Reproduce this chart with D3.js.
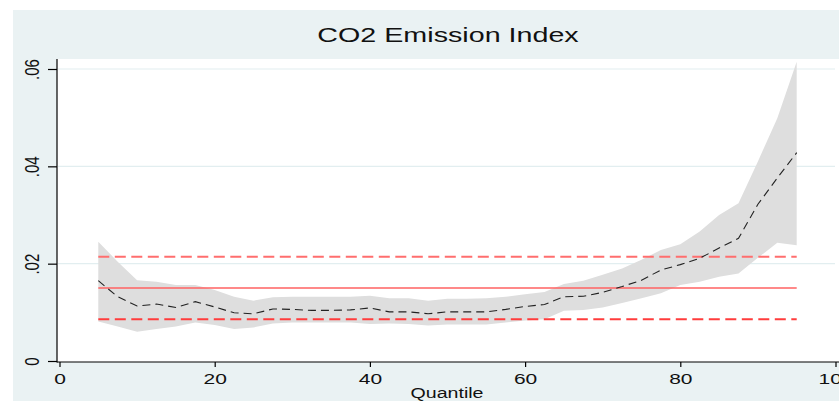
<!DOCTYPE html>
<html>
<head>
<meta charset="utf-8">
<script src="https://cdn.jsdelivr.net/npm/d3@7/dist/d3.min.js"></script>
<style>
html,body{margin:0;padding:0;background:#fff;}
svg{display:block;}
text{font-family:"Liberation Sans",Arial,Helvetica,sans-serif;fill:#111;}
</style>
</head>
<body>
<svg id="chart" width="839" height="401"></svg>
<script>
// ---- data ----
const title = "CO2 Emission Index";
const xLabel = "Quantile";
const quantiles = [5, 7.5, 10, 12.5, 15, 17.5, 20, 22.5, 25, 27.5, 30, 32.5, 35, 37.5, 40, 42.5, 45, 47.5, 50, 52.5, 55, 57.5, 60, 62.5, 65, 67.5, 70, 72.5, 75, 77.5, 80, 82.5, 85, 87.5, 90, 92.5, 95];
const coef = [0.0165, 0.0132, 0.0113, 0.0117, 0.0110, 0.0122, 0.0111, 0.0099, 0.0097, 0.0107, 0.0106, 0.0104, 0.0104, 0.0105, 0.0109, 0.0101, 0.0101, 0.0097, 0.0101, 0.0101, 0.0101, 0.0106, 0.0112, 0.0116, 0.0132, 0.0133, 0.0141, 0.0153, 0.0166, 0.0187, 0.0198, 0.0211, 0.0232, 0.0252, 0.0322, 0.0376, 0.0428];
const upper = [0.0245, 0.0204, 0.0166, 0.0163, 0.0156, 0.0156, 0.0146, 0.0132, 0.0124, 0.0131, 0.0132, 0.0132, 0.0132, 0.0132, 0.0134, 0.0129, 0.0129, 0.0124, 0.0128, 0.0128, 0.0129, 0.0132, 0.0137, 0.0142, 0.0158, 0.0165, 0.0177, 0.0190, 0.0208, 0.0228, 0.0240, 0.0266, 0.0300, 0.0324, 0.0410, 0.0499, 0.0615];
const lower = [0.0081, 0.0071, 0.0060, 0.0066, 0.0071, 0.0079, 0.0074, 0.0066, 0.0069, 0.0077, 0.0079, 0.0079, 0.0079, 0.0079, 0.0076, 0.0077, 0.0076, 0.0073, 0.0075, 0.0075, 0.0075, 0.0079, 0.0083, 0.0086, 0.0103, 0.0105, 0.0110, 0.0119, 0.0129, 0.0139, 0.0156, 0.0163, 0.0173, 0.0180, 0.0212, 0.0243, 0.0238];
const olsCoef = 0.0150;
const olsLower = 0.0086;
const olsUpper = 0.0214;
const xTicks = [0, 20, 40, 60, 80, 100];
const yTicks = [0, 0.02, 0.04, 0.06];
const yTickLabels = ["0", ".02", ".04", ".06"];

// ---- layout ----
const W = 839, H = 401;
const svg = d3.select("#chart");
const SX = 1.4; // horizontal stretch of text in reference

const x = d3.scaleLinear().domain([0, 100]).range([59.5, 835.5]);
const y = d3.scaleLinear().domain([0, 0.06]).range([361, 69]);

// outer backgrounds
svg.append("rect").attr("x", 0).attr("y", 0).attr("width", W).attr("height", H).attr("fill", "#ffffff");
svg.append("rect").attr("x", 13).attr("y", 10).attr("width", W - 13).attr("height", H - 10).attr("fill", "#eaf2f3");
// plot region
svg.append("rect").attr("x", 57).attr("y", 59).attr("width", W - 57).attr("height", 362 - 59).attr("fill", "#ffffff");

// gridlines
svg.append("g").selectAll("line").data(yTicks.filter(d => d > 0)).join("line")
  .attr("x1", 58).attr("x2", 835)
  .attr("y1", d => y(d)).attr("y2", d => y(d))
  .attr("stroke", "#e2eef0").attr("stroke-width", 1.2);

const data = quantiles.map((q, i) => ({q, c: coef[i], lo: lower[i], hi: upper[i]}));

// CI band
svg.append("path").datum(data)
  .attr("d", d3.area().x(d => x(d.q)).y0(d => y(d.lo)).y1(d => y(d.hi)))
  .attr("fill", "#dedede");

// OLS lines
const q0 = quantiles[0], q1 = quantiles[quantiles.length - 1];
svg.append("line").attr("x1", x(q0)).attr("x2", x(q1)).attr("y1", y(olsUpper)).attr("y2", y(olsUpper))
  .attr("stroke", "#ff6e6e").attr("stroke-width", 2).attr("stroke-dasharray", "11,5.5");
svg.append("line").attr("x1", x(q0)).attr("x2", x(q1)).attr("y1", y(olsCoef)).attr("y2", y(olsCoef))
  .attr("stroke", "#ff6262").attr("stroke-width", 1.5);
svg.append("line").attr("x1", x(q0)).attr("x2", x(q1)).attr("y1", y(olsLower)).attr("y2", y(olsLower))
  .attr("stroke", "#ff3c3c").attr("stroke-width", 2).attr("stroke-dasharray", "11,5.5");

// coefficient line
svg.append("path").datum(data)
  .attr("d", d3.line().x(d => x(d.q)).y(d => y(d.c)))
  .attr("fill", "none").attr("stroke", "#222").attr("stroke-width", 1.1)
  .attr("stroke-dasharray", "8,5");

// axes
svg.append("line").attr("x1", 57).attr("x2", 57).attr("y1", 59).attr("y2", 362.5).attr("stroke", "#000").attr("stroke-width", 1.2);
svg.append("line").attr("x1", 57).attr("x2", W).attr("y1", 362).attr("y2", 362).attr("stroke", "#000").attr("stroke-width", 1.2);

const xAxis = d3.axisBottom(x).tickValues(xTicks).tickSize(5).tickFormat(d3.format("d"));
const gx = svg.append("g").attr("transform", "translate(0,362)").call(xAxis);
gx.select(".domain").remove();
gx.selectAll(".tick line").attr("stroke", "#000").attr("stroke-width", 1.2);
gx.selectAll(".tick text")
  .attr("y", 0).attr("dy", 0)
  .attr("transform", `translate(0,22) scale(${SX},1)`)
  .style("font-size", "15px").style("font-family", '"Liberation Sans", Arial, sans-serif').attr("fill", "#111");

const yAxis = d3.axisLeft(y).tickValues(yTicks).tickSize(9).tickFormat((d, i) => yTickLabels[i]);
const gy = svg.append("g").attr("transform", "translate(57,0)").call(yAxis);
gy.select(".domain").remove();
gy.selectAll(".tick line").attr("stroke", "#000").attr("stroke-width", 1.2);
gy.selectAll(".tick text")
  .attr("x", 0).attr("dy", 0)
  .attr("text-anchor", "middle")
  .attr("transform", `translate(-18,0) scale(${SX},1) rotate(-90)`)
  .style("font-size", "15px").style("font-family", '"Liberation Sans", Arial, sans-serif').attr("fill", "#111");

// title
svg.append("text").attr("text-anchor", "middle")
  .attr("transform", `translate(448,42) scale(${SX},1)`)
  .style("font-size", "20.5px").text(title);

// x label
svg.append("text").attr("text-anchor", "middle")
  .attr("transform", `translate(447,398) scale(${SX},1)`)
  .style("font-size", "14px").text(xLabel);
</script>
</body>
</html>
